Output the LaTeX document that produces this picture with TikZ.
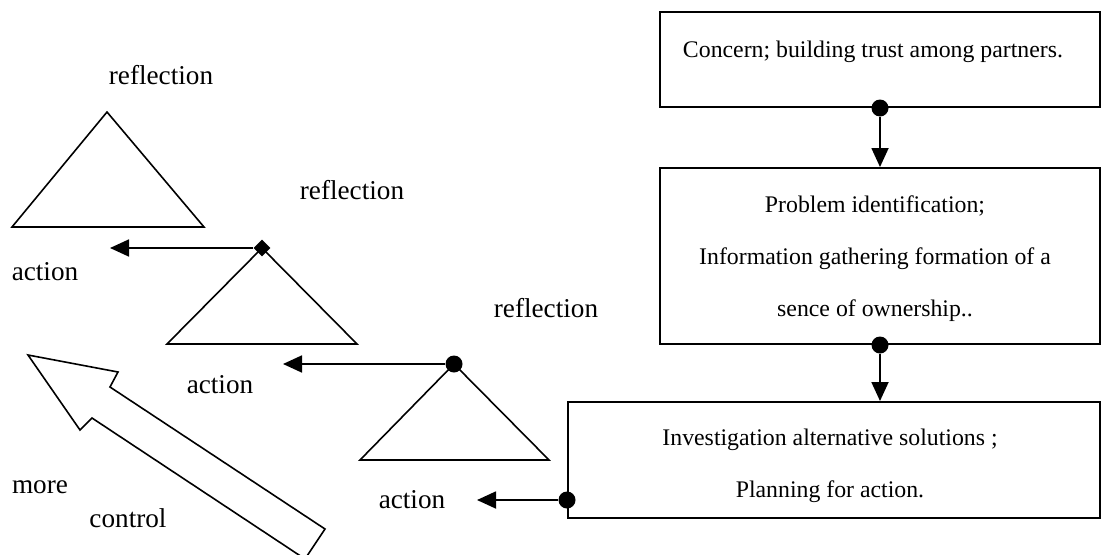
\documentclass[tikz,border=0pt]{standalone}
\usepackage{fontspec}
\setmainfont{Liberation Serif}
\usetikzlibrary{arrows.meta,positioning,calc,shapes.geometric}
\tikzset{
  box/.style  = {draw=black, line width=1pt, inner sep=0pt},
  txt/.style  = {font=\fontsize{11.9}{26}\selectfont, align=center, inner sep=0pt},
  lab/.style  = {font=\fontsize{13.6}{16}\selectfont, inner sep=0pt},
  tri/.style  = {draw=black, line width=0.8pt, line join=miter},
  arr/.style  = {-{Triangle[length=9.5pt, width=8.5pt]}, draw=black, line width=0.9pt},
  dot/.style  = {circle, fill=black, inner sep=0pt, minimum size=8.5pt},
  dia/.style  = {diamond, fill=black, inner sep=0pt, minimum size=8.5pt},
  fat/.style  = {draw=black, line width=0.8pt, line join=miter},
}
\begin{document}
\begin{tikzpicture}[x=0.5pt, y=0.5pt]
  \useasboundingbox (0,0) rectangle (1102,554);
  \clip (0,0) rectangle (1102,554);

  % stages on the right
  \node[box, minimum width=220pt, minimum height=47.5pt] (b1) at (880,494.5) {};
  \node[box, minimum width=220pt, minimum height=88pt] (b2) at (880,298) {};
  \node[box, minimum width=266pt, minimum height=58pt] (b3) at (834,94) {};
  \node[txt] (t1) at (873,502) {Concern; building trust among partners.};
  \node[txt] (t2) at (875,295) {Problem identification;\\Information gathering formation of a\\sence of ownership..};
  \node[txt] (t3) at (830,88) {Investigation alternative solutions ;\\Planning for action.};

  \node[dot] (d1) at (b1.south) {};
  \node[dot] (d2) at (b2.south) {};
  \node[dot] (d3) at ([yshift=9.5pt]b3.south west) {};
  \draw[arr] (d1) -- (b2.north);
  \draw[arr] (d2) -- (d2 |- b3.north);
  \coordinate (e3) at ([xshift=-45pt]d3);
  \draw[arr] (d3) -- (e3);

  % reflection / action cycles
  \coordinate (r1) at (107,442);
  \draw[tri] (r1) -- (12,327) -- (204,327) -- cycle;
  \draw[tri] (262,306) -- (167,210) -- (357,210) -- cycle;
  \draw[tri] (454,190) -- (360,94) -- (549,94) -- cycle;
  \node[dia] (r2) at (262,306) {};
  \node[dot] (r3) at (454,190) {};
  \coordinate (e1) at ([xshift=-76pt]r2);
  \coordinate (e2) at ([xshift=-85.5pt]r3);
  \draw[arr] (r2) -- (e1);
  \draw[arr] (r3) -- (e2);

  \node[lab] (refl1) at (161,479) {reflection};
  \node[lab] (refl2) at (352,364) {reflection};
  \node[lab] (refl3) at (546,246) {reflection};
  \node[lab] (act1) at (45,282) {action};
  \node[lab] (act2) at (220,169) {action};
  \node[lab] (act3) at (412,54) {action};
  \node[lab] (more) at (40,67) {more};
  \node[lab] (ctrl) at (128,36) {control};

  % hollow arrow
  \draw[fat] (28,199) -- (118,182) -- (110,167) -- (325,25) -- (305,-5)
    -- (92,136) -- (80,124) -- cycle;
\end{tikzpicture}
\end{document}
